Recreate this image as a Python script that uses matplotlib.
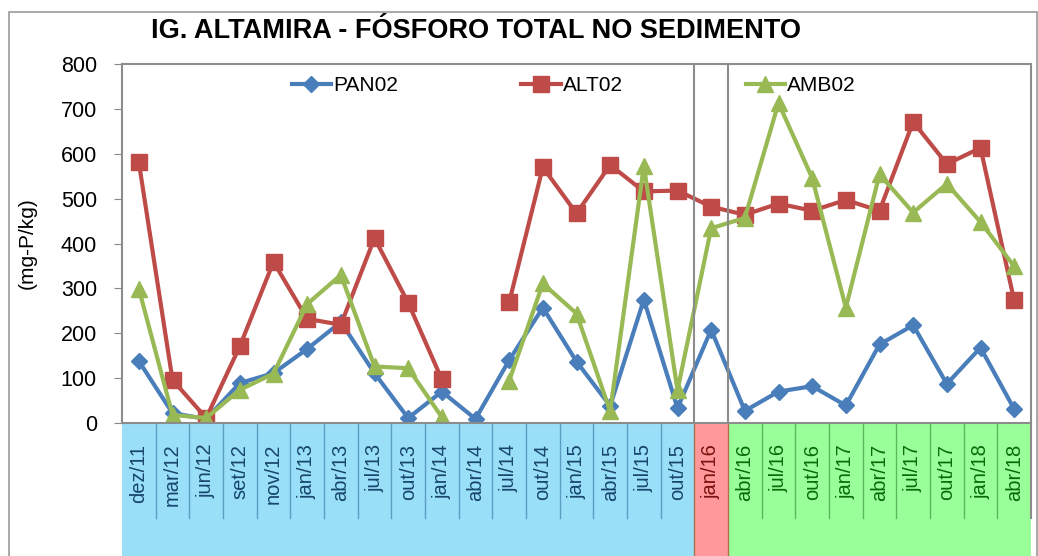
import numpy as np
import matplotlib.pyplot as plt
from matplotlib.patches import Rectangle
import matplotlib.transforms as mtransforms

plt.rcParams['font.family'] = ['Liberation Sans', 'DejaVu Sans']

# campanhas
meses = ["dez/11", "mar/12", "jun/12", "set/12", "nov/12", "jan/13", "abr/13",
         "jul/13", "out/13", "jan/14", "abr/14", "jul/14", "out/14", "jan/15",
         "abr/15", "jul/15", "out/15", "jan/16", "abr/16", "jul/16", "out/16",
         "jan/17", "abr/17", "jul/17", "out/17", "jan/18", "abr/18"]

# fosforo total (mg-P/kg), nan = sem coleta
pan02 = [138, 22, 9, 89, 111, 165, 225, 111, 11, 70, 9, 140, 257, 137,
         38, 275, 33, 208, 27, 70, 82, 39, 175, 218, 87, 168, 31]
alt02 = [581, 96, 11, 171, 359, 232, 219, 412, 268, 97, np.nan, 269, 570, 467,
         575, 516, 518, 482, 464, 489, 473, 497, 473, 671, 577, 613, 273]
amb02 = [299, 18, 11, 74, 110, 265, 330, 126, 122, 13, np.nan, 94, 311, 244,
         26, 573, 73, 434, 457, 713, 546, 257, 554, 469, 533, 448, 349]

# fases do monitoramento (quantidade de campanhas em cada uma)
fases_n = [17, 1, 9]
fases_cor = ["#99DFF8", "#FF9999", "#99FF99"]
fases_linha = ["#5A9FC2", "#B0504A", "#5CB85C"]
fases_texto = ["#17456B", "#7A1010", "#0A6A0A"]

fig = plt.figure(figsize=(10.38, 5.56), dpi=100)
ax = fig.add_axes([122/1038, 1 - 423/556, 909/1038, 359/556])

x = np.arange(len(meses))
ax.plot(x, pan02, color="#4A7EBB", lw=3, marker="D", ms=8.5, label="PAN02")
ax.plot(x, alt02, color="#BE4B48", lw=3, marker="s", ms=11, label="ALT02")
ax.plot(x, amb02, color="#98B954", lw=3, marker="^", ms=12, label="AMB02")

ax.set_xlim(-0.5, len(meses) - 0.5)
ax.set_ylim(0, 800)
ax.set_yticks(range(0, 801, 100))
ax.tick_params(axis="y", labelsize=15.5, length=6, color="#888888", pad=12)
ax.set_xticks(x)
ax.set_xticklabels(meses, rotation=90, fontsize=14.5)
ax.tick_params(axis="x", length=0, pad=15)
for s in ax.spines.values():
    s.set_color("#8C8C8C")
    s.set_linewidth(1.5)

ax.set_ylabel("(mg-P/kg)", fontsize=15, labelpad=17)

# faixas coloridas abaixo do eixo
trans = mtransforms.blended_transform_factory(ax.transData, ax.transAxes)
inicio = -0.5
labels = ax.get_xticklabels()
for n, cor, lc, tc in zip(fases_n, fases_cor, fases_linha, fases_texto):
    ax.add_patch(Rectangle((inicio, -0.372), n, 0.372, transform=trans,
                           facecolor=cor, edgecolor="none", clip_on=False, zorder=0))
    for k in range(1, n):
        ax.plot([inicio + k, inicio + k], [0, -0.265], transform=trans,
                color=lc, lw=1, clip_on=False)
    for k in range(n):
        labels[int(inicio + 0.5) + k].set_color(tc)
    inicio += n
# separacao da campanha de jan/16
for xv in (16.5, 17.5):
    ax.axvline(xv, color="#8C8C8C", lw=1.5)
    ax.plot([xv, xv], [0, -0.372], transform=trans, color="#B07050", lw=1, clip_on=False)
ax.plot([1, 1], [0, -0.265], transform=ax.transAxes, color="#8C8C8C", lw=1.5, clip_on=False)

ax.legend(loc="center", bbox_to_anchor=(0.497, 0.939), ncol=3, frameon=False,
          fontsize=15, handlelength=1.9, handletextpad=0.1, columnspacing=5.9)

fig.text(0.4586, 0.944, "IG. ALTAMIRA - FÓSFORO TOTAL NO SEDIMENTO",
         fontsize=19.5, fontweight="bold", ha="center", va="center")

fig.patches.append(Rectangle((9/1038, -0.1), 1028/1038, 1.1 - 12/556,
                             transform=fig.transFigure, fill=False,
                             edgecolor="#9A9A9A", lw=1.2))

fig.savefig("out.png", dpi=100)
